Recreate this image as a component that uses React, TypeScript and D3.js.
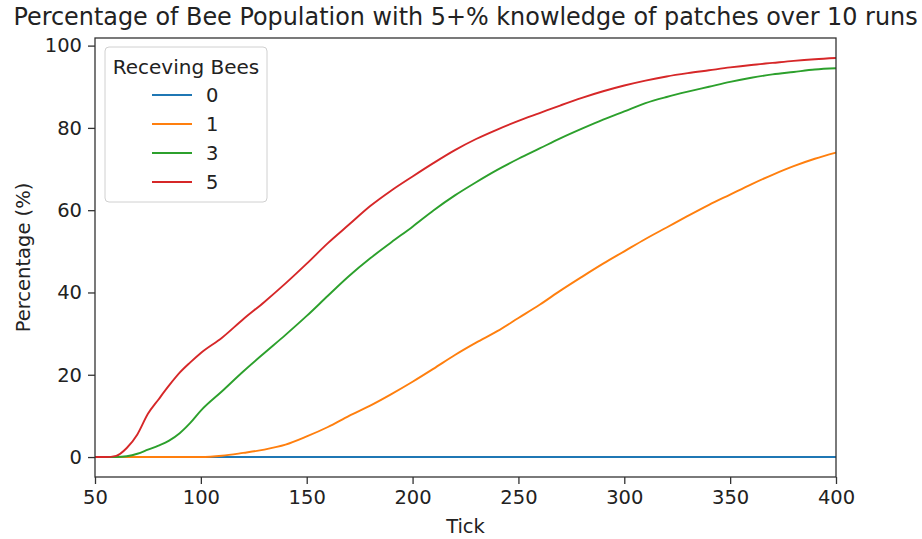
import React, { useEffect, useRef } from 'react';
import * as d3 from 'd3';

// ticks (simulation step) shared by every series
const ticks = [50, 55, 60, 65, 70, 75, 80, 85, 90, 95, 100, 110, 120, 130, 140, 150, 160, 170, 180, 190, 200,
  210, 220, 230, 240, 250, 260, 270, 280, 290, 300, 310, 320, 330, 340, 350, 360, 370, 380, 390, 400];

const bees0 = [0, 0, 0, 0, 0, 0, 0, 0, 0, 0, 0, 0, 0, 0, 0, 0, 0, 0, 0, 0, 0,
  0, 0, 0, 0, 0, 0, 0, 0, 0, 0, 0, 0, 0, 0, 0, 0, 0, 0, 0, 0];
const bees1 = [0, 0, 0, 0, 0, 0, 0, 0, 0, 0, 0, 0.3, 1, 1.8, 3, 5, 7.3, 10, 12.5, 15.3, 18.3,
  21.5, 24.8, 27.8, 30.6, 33.8, 37, 40.5, 43.8, 47, 50, 53, 55.8, 58.6, 61.3, 63.8, 66.3, 68.6, 70.7, 72.5, 74];
const bees3 = [0, 0, 0, 0.2, 0.8, 1.8, 2.8, 4, 5.8, 8.3, 11.3, 16, 20.8, 25.3, 29.7, 34.3, 39.2, 44, 48.3, 52.2, 56,
  60, 63.6, 66.8, 69.8, 72.5, 75, 77.5, 79.8, 82, 84, 86, 87.5, 88.8, 90, 91.2, 92.2, 93, 93.6, 94.2, 94.5];
const bees5 = [0, 0, 0.3, 2.2, 5.5, 10.5, 14, 17.4, 20.5, 23, 25.3, 29, 33.5, 37.7, 42.2, 47, 52, 56.5, 61, 64.8, 68.2,
  71.5, 74.6, 77.3, 79.6, 81.7, 83.6, 85.5, 87.3, 88.9, 90.3, 91.5, 92.5, 93.3, 94, 94.7, 95.3, 95.8, 96.3, 96.7, 97];

const seriesNames = ['0', '1', '3', '5'];
const seriesValues = [bees0, bees1, bees3, bees5];
const colors = ['#1f77b4', '#ff7f0e', '#2ca02c', '#d62728'];
const xTicks = [50, 100, 150, 200, 250, 300, 350, 400];
const yTicks = [0, 20, 40, 60, 80, 100];

function App() {
  const ref = useRef<SVGSVGElement>(null);

  useEffect(() => {
    const svg = d3.select(ref.current);
    svg.selectAll('*').remove();

    const width = 922;
    const height = 539;
    const margin = { top: 38, left: 95, bottom: 62, right: 86 };
    const iwidth = width - margin.left - margin.right;
    const iheight = height - margin.top - margin.bottom;
    const font = 'DejaVu Sans, sans-serif';
    const fs = 19.5;

    const x = d3.scaleLinear().domain([50, 400]).range([0, iwidth]);
    const y = d3.scaleLinear().domain([-4.85, 101.85]).range([iheight, 0]);

    const g = svg.append('g').attr('transform', `translate(${margin.left},${margin.top})`);

    const line = d3.line<number>()
      .x((d, i) => x(ticks[i]))
      .y(d => y(d))
      .curve(d3.curveMonotoneX);

    seriesValues.forEach((vals, i) => {
      g.append('path')
        .datum(vals)
        .attr('fill', 'none')
        .attr('stroke', colors[i])
        .attr('stroke-width', 1.9)
        .attr('stroke-linejoin', 'round')
        .attr('d', line);
    });

    const xAxis = g.append('g')
      .attr('transform', `translate(0,${iheight})`)
      .call(d3.axisBottom(x).tickValues(xTicks).tickSize(7).tickPadding(6).tickSizeOuter(0));
    const yAxis = g.append('g')
      .call(d3.axisLeft(y).tickValues(yTicks).tickSize(7).tickPadding(6).tickSizeOuter(0));

    [xAxis, yAxis].forEach(ax => {
      ax.select('.domain').remove();
      ax.selectAll('line').attr('stroke', '#333').attr('stroke-width', 1.3);
      ax.selectAll('text').attr('font-family', font).attr('font-size', fs).attr('fill', '#222');
    });

    // frame
    g.append('rect')
      .attr('width', iwidth)
      .attr('height', iheight)
      .attr('fill', 'none')
      .attr('stroke', '#333')
      .attr('stroke-width', 1.3);

    svg.append('text')
      .attr('x', margin.left + iwidth / 2)
      .attr('y', 25)
      .attr('text-anchor', 'middle')
      .attr('font-family', font)
      .attr('font-size', 23.9)
      .attr('fill', '#222')
      .text('Percentage of Bee Population with 5+% knowledge of patches over 10 runs');

    svg.append('text')
      .attr('x', margin.left + iwidth / 2)
      .attr('y', 533)
      .attr('text-anchor', 'middle')
      .attr('font-family', font)
      .attr('font-size', fs)
      .attr('fill', '#222')
      .text('Tick');

    svg.append('text')
      .attr('transform', `translate(30,${margin.top + iheight / 2}) rotate(-90)`)
      .attr('text-anchor', 'middle')
      .attr('font-family', font)
      .attr('font-size', fs)
      .attr('fill', '#222')
      .text('Percentage (%)');

    // legend
    const lg = svg.append('g').attr('transform', 'translate(105,47)');
    lg.append('rect')
      .attr('width', 162)
      .attr('height', 155)
      .attr('rx', 4)
      .attr('fill', 'white')
      .attr('fill-opacity', 0.8)
      .attr('stroke', '#d0d0d0');
    lg.append('text')
      .attr('x', 81)
      .attr('y', 27)
      .attr('text-anchor', 'middle')
      .attr('font-family', font)
      .attr('font-size', 20)
      .attr('fill', '#222')
      .text('Receving Bees');
    seriesNames.forEach((name, i) => {
      const yy = 48 + i * 29;
      lg.append('line')
        .attr('x1', 47).attr('x2', 87)
        .attr('y1', yy).attr('y2', yy)
        .attr('stroke', colors[i])
        .attr('stroke-width', 1.9);
      lg.append('text')
        .attr('x', 101)
        .attr('y', yy)
        .attr('dy', '0.35em')
        .attr('font-family', font)
        .attr('font-size', fs)
        .attr('fill', '#222')
        .text(name);
    });
  }, []);

  return (
    <svg ref={ref} width={922} height={539} style={{ position: 'absolute', left: 0, top: 0, background: 'white' }} />
  );
}

export default App;
